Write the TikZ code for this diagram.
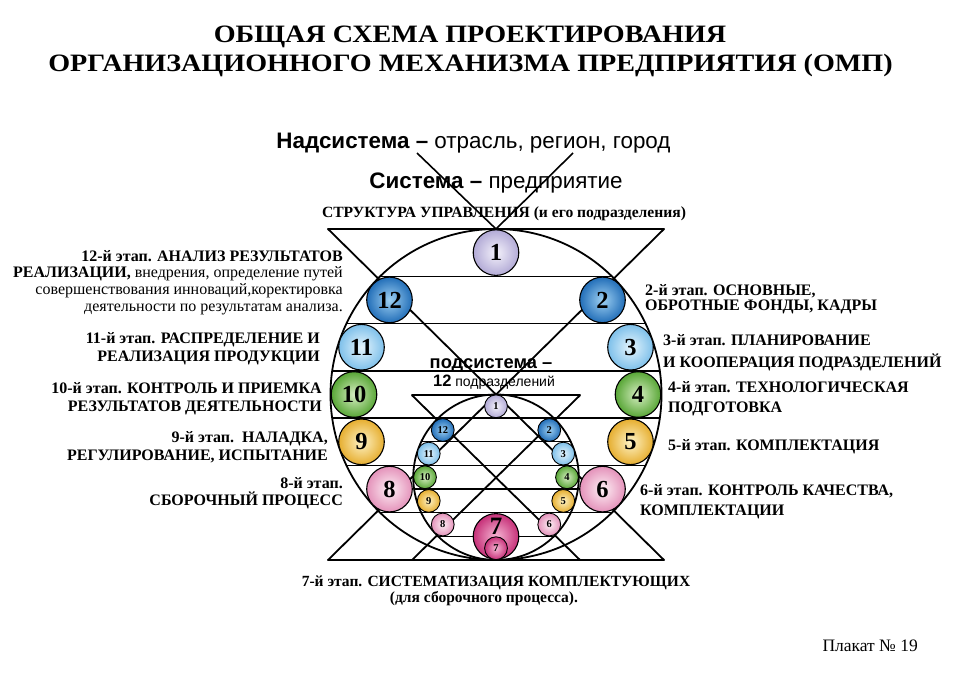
\documentclass[tikz,border=0pt]{standalone}
\usepackage{fontspec}
\setmainfont{Liberation Serif}
\newfontfamily\arialf{Liberation Sans}
\definecolor{lavI}{HTML}{F4F2FB}\definecolor{lavO}{HTML}{B2AAD6}
\definecolor{bluI}{HTML}{9ED0F2}\definecolor{bluO}{HTML}{226EB8}
\definecolor{lblI}{HTML}{E6F5FD}\definecolor{lblO}{HTML}{7EC0EA}
\definecolor{grnI}{HTML}{D6EEC2}\definecolor{grnO}{HTML}{58A636}
\definecolor{yelI}{HTML}{FEF3C6}\definecolor{yelO}{HTML}{E6AE30}
\definecolor{pnkI}{HTML}{FDF0F5}\definecolor{pnkO}{HTML}{E492BA}
\definecolor{magI}{HTML}{F6B6D4}\definecolor{magO}{HTML}{C63078}
\begin{document}
\begin{tikzpicture}[x=1pt,y=-1pt,
  geo/.style={line width=1.8pt,line cap=round},
  chord/.style={line width=1.3pt},
  bigb/.style={circle,draw=black,line width=1.1pt,inner sep=0pt,minimum size=45.6pt,
    font=\fontsize{24.5}{24.5}\selectfont\bfseries},
  smb/.style={circle,draw=black,line width=0.9pt,inner sep=0pt,minimum size=22.8pt,
    font=\fontsize{10.5}{10.5}\selectfont\bfseries},
  cLav/.style={inner color=lavI,outer color=lavO},
  cBlu/.style={inner color=bluI,outer color=bluO},
  cLbl/.style={inner color=lblI,outer color=lblO},
  cGrn/.style={inner color=grnI,outer color=grnO},
  cYel/.style={inner color=yelI,outer color=yelO},
  cPnk/.style={inner color=pnkI,outer color=pnkO},
  cMag/.style={inner color=magI,outer color=magO},
  lblL/.style={inner sep=0pt,anchor=east,align=right},
  lblR/.style={inner sep=0pt,anchor=west,align=left},
  ttl/.style={anchor=base,inner sep=0pt,font=\fontsize{25}{30}\selectfont\bfseries},
]
% background / bounding box
\fill[white] (0,0) rectangle (960,672);
\useasboundingbox (0,0) rectangle (960,672);

% key points
\coordinate (C) at (496,394.5);
\coordinate (sC) at (496,477.25);
\coordinate (top) at (496,229);
\coordinate (TL) at (328,229);
\coordinate (TR) at (664,229);
\coordinate (BL) at (328,560);
\coordinate (BR) at (664,560);
\coordinate (sTL) at (412,395.25);
\coordinate (sTR) at (580,395.25);
\coordinate (sBL) at (412,560);
\coordinate (sBR) at (580,560);
\coordinate (nadL) at (417,153);
\coordinate (nadR) at (573,153);

% chords of the big circle
\begin{scope}
  \clip (C) circle[radius=165.5];
  \foreach \yy in {276.3,323.6,370.9,418.1,465.4,512.7}
    \draw[chord] (300,\yy) -- (700,\yy);
\end{scope}
% chords of the small circle
\begin{scope}
  \clip (sC) circle[radius=82.75];
  \foreach \yy in {418.15,441.8,465.45,489.05,512.7,536.35}
    \draw[chord] (400,\yy) -- (600,\yy);
\end{scope}

% circles
\draw[geo] (C) circle[radius=165.5];
\draw[geo] (sC) circle[radius=82.75];

% big hourglass
\draw[geo] (TL) -- (TR);
\draw[geo] (BL) -- (BR);
\draw[geo] (TL) -- (BR);
\draw[geo] (TR) -- (BL);
% small hourglass
\draw[geo] (sTL) -- (sTR);
\draw[geo] (sTL) -- (sBR);
\draw[geo] (sTR) -- (sBL);

% lines from the supersystem
\draw[line width=1.6pt] (nadL) -- (top);
\draw[line width=1.6pt] (nadR) -- (top);

% big balls
\node[bigb,cLav] (b1)  at (496,252.6) {1};
\node[bigb,cBlu] (b12) at (389.5,299.9) {12};
\node[bigb,cBlu] (b2)  at (602.5,299.9) {2};
\node[bigb,cLbl] (b11) at (361.5,347.2) {11};
\node[bigb,cLbl] (b3)  at (630.5,347.2) {3};
\node[bigb,cGrn] (b10) at (354,394.5) {10};
\node[bigb,cGrn] (b4)  at (638,394.5) {4};
\node[bigb,cYel] (b9)  at (361.5,441.8) {9};
\node[bigb,cYel] (b5)  at (630.5,441.8) {5};
\node[bigb,cPnk] (b8)  at (389.5,489.1) {8};
\node[bigb,cPnk] (b6)  at (602.5,489.1) {6};
\node[bigb,cMag,label={[font=\fontsize{25}{25}\selectfont\bfseries,yshift=10pt]center:7}] (b7) at (496,536.4) {};

% small balls
\node[smb,cLav] (s1)  at (496,406.3) {1};
\node[smb,cBlu] (s12) at (442.75,430) {12};
\node[smb,cBlu] (s2)  at (549.25,430) {2};
\node[smb,cLbl] (s11) at (428.75,453.6) {11};
\node[smb,cLbl] (s3)  at (563.25,453.6) {3};
\node[smb,cGrn] (s10) at (425,477.25) {10};
\node[smb,cGrn] (s4)  at (567,477.25) {4};
\node[smb,cYel] (s9)  at (428.75,500.9) {9};
\node[smb,cYel] (s5)  at (563.25,500.9) {5};
\node[smb,cPnk] (s8)  at (442.75,524.5) {8};
\node[smb,cPnk] (s6)  at (549.25,524.5) {6};
\node[smb,cMag] (s7)  at (496,548.2) {7};

% titles
\node[ttl] (title1) at (470,42) {\scalebox{1.125}[1]{ОБЩАЯ СХЕМА ПРОЕКТИРОВАНИЯ}};
\node[ttl] (title2) at (470.5,71) {\scalebox{1.125}[1]{ОРГАНИЗАЦИОННОГО МЕХАНИЗМА ПРЕДПРИЯТИЯ (ОМП)}};

\node[anchor=base,inner sep=0pt,font=\arialf\fontsize{22.4}{24}\selectfont] (nad) at (473.5,148) {\textbf{Надсистема –} отрасль, регион, город};
\node[anchor=base,inner sep=0pt,font=\arialf\fontsize{22.4}{24}\selectfont] (sys) at (496,188.5) {\textbf{Система –} предприятие};
\node[anchor=base,inner sep=0pt,font=\fontsize{15.6}{17}\selectfont\bfseries] (struct) at (504,217) {СТРУКТУРА УПРАВЛЕНИЯ (и его подразделения)};

\node[anchor=base,inner sep=0pt,font=\arialf\fontsize{18.3}{20}\selectfont\bfseries] (sub1) at (491,368.5) {подсистема –};
\node[anchor=base,inner sep=0pt,font=\arialf\fontsize{14}{15}\selectfont] (sub2) at (494,386) {{\fontsize{16.5}{16.5}\selectfont\bfseries 12} подразделений};

% left labels
\node[lblL,font=\fontsize{16}{16.7}\selectfont] (t12) at (343,282.3) {\textbf{12-й этап. АНАЛИЗ РЕЗУЛЬТАТОВ}\\\textbf{РЕАЛИЗАЦИИ,} внедрения, определение путей\\совершенствования инноваций,коректировка\\деятельности по результатам анализа.};
\node[lblL,font=\fontsize{16}{17.7}\selectfont\bfseries] (t11) at (320,348.5) {11-й этап. РАСПРЕДЕЛЕНИЕ И\\РЕАЛИЗАЦИЯ ПРОДУКЦИИ};
\node[lblL,font=\fontsize{16}{17.7}\selectfont\bfseries] (t10) at (322,398.5) {10-й этап. КОНТРОЛЬ И ПРИЕМКА\\РЕЗУЛЬТАТОВ ДЕЯТЕЛЬНОСТИ};
\node[lblL,font=\fontsize{16}{18.3}\selectfont\bfseries] (t9) at (328,447) {9-й этап.\ \ НАЛАДКА,\\РЕГУЛИРОВАНИЕ, ИСПЫТАНИЕ};
\node[lblL,font=\fontsize{16}{17}\selectfont\bfseries] (t8) at (343,493.5) {8-й этап.\\СБОРОЧНЫЙ ПРОЦЕСС};

% right labels
\node[lblR,font=\fontsize{16}{15.8}\selectfont\bfseries] (t2) at (645,299.2) {2-й этап. ОСНОВНЫЕ,\\ОБРОТНЫЕ ФОНДЫ, КАДРЫ};
\node[lblR,font=\fontsize{16}{21.7}\selectfont\bfseries] (t3) at (663,352.5) {3-й этап. ПЛАНИРОВАНИЕ\\И КООПЕРАЦИЯ ПОДРАЗДЕЛЕНИЙ};
\node[lblR,font=\fontsize{16}{20}\selectfont\bfseries] (t4) at (668,398.5) {4-й этап. ТЕХНОЛОГИЧЕСКАЯ\\ПОДГОТОВКА};
\node[lblR,font=\fontsize{16}{18}\selectfont\bfseries] (t5) at (668,447) {5-й этап. КОМПЛЕКТАЦИЯ};
\node[lblR,font=\fontsize{16}{20}\selectfont\bfseries] (t6) at (640,502) {6-й этап. КОНТРОЛЬ КАЧЕСТВА,\\КОМПЛЕКТАЦИИ};

% bottom
\node[anchor=base,inner sep=0pt,font=\fontsize{15.5}{17}\selectfont\bfseries] (t7a) at (496,586) {7-й этап. СИСТЕМАТИЗАЦИЯ КОМПЛЕКТУЮЩИХ};
\node[anchor=base,inner sep=0pt,font=\fontsize{15.5}{17}\selectfont\bfseries] (t7b) at (484,602.5) {(для сборочного процесса).};

\node[anchor=base east,inner sep=0pt,font=\fontsize{17.5}{19}\selectfont] (poster) at (918,651) {Плакат № 19};
\end{tikzpicture}
\end{document}
